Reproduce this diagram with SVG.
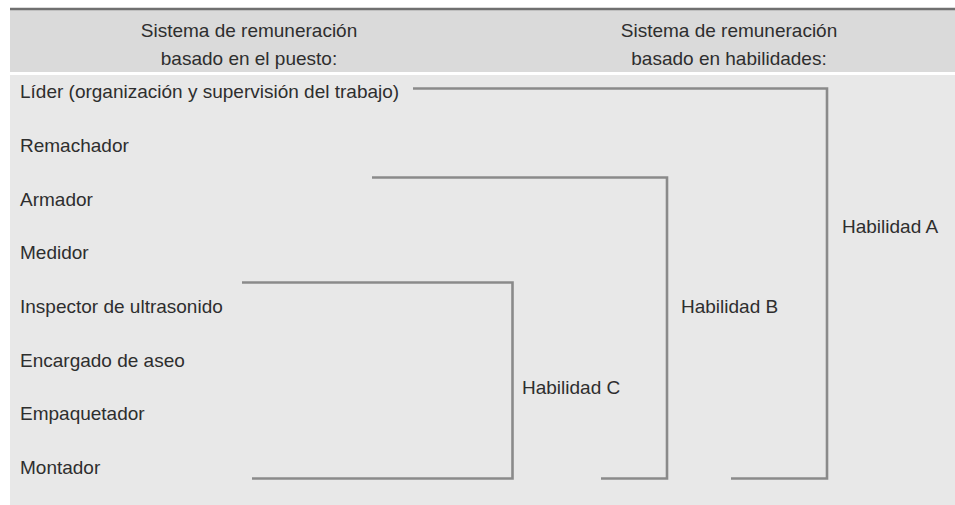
<svg xmlns="http://www.w3.org/2000/svg" width="955" height="505" viewBox="0 0 955 505">
<style>
text{font-family:"Liberation Sans",Arial,sans-serif;font-size:19px;fill:#2e2e2e}
.h{text-anchor:middle}
.c{fill:none;stroke:#8a8a8a;stroke-width:2.6}
</style>
<rect x="0" y="0" width="955" height="505" fill="#ffffff"/>
<rect x="10" y="10" width="945" height="62" fill="#dadada"/>
<line x1="10" y1="9" x2="955" y2="9" stroke="#707070" stroke-width="2.4"/>
<rect x="10" y="75" width="945" height="430" fill="#e8e8e8"/>
<g id="header-left">
<text class="h" x="249" y="37">Sistema de remuneración</text>
<text class="h" x="249" y="65">basado en el puesto:</text>
</g>
<g id="header-right">
<text class="h" x="729" y="37">Sistema de remuneración</text>
<text class="h" x="729" y="65">basado en habilidades:</text>
</g>
<g id="jobs">
<g id="job-lider"><text x="20" y="98">Líder (organización y supervisión del trabajo)</text></g>
<g id="job-remachador"><text x="20" y="152">Remachador</text></g>
<g id="job-armador"><text x="20" y="206">Armador</text></g>
<g id="job-medidor"><text x="20" y="259">Medidor</text></g>
<g id="job-inspector"><text x="20" y="313">Inspector de ultrasonido</text></g>
<g id="job-aseo"><text x="20" y="367">Encargado de aseo</text></g>
<g id="job-empaquetador"><text x="20" y="420">Empaquetador</text></g>
<g id="job-montador"><text x="20" y="474">Montador</text></g>
</g>
<g id="connectors">
<polyline class="c" points="413,88.5 827,88.5 827,478.5 731,478.5"/>
<polyline class="c" points="372,177.5 667,177.5 667,478.5 601,478.5"/>
<polyline class="c" points="242,282.5 512.5,282.5 512.5,478.5 252,478.5"/>
</g>
<g id="skill-a"><text x="842" y="233">Habilidad A</text></g>
<g id="skill-b"><text x="681" y="313">Habilidad B</text></g>
<g id="skill-c"><text x="522" y="394">Habilidad C</text></g>
</svg>
